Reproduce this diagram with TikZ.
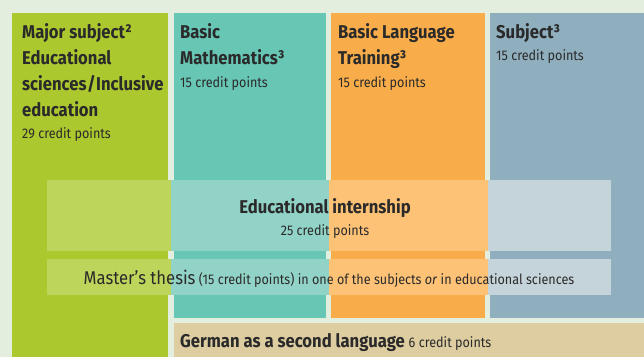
\documentclass[tikz,border=0pt]{standalone}
\usepackage{fontspec}
\setmainfont{Fira Sans}[FakeStretch=0.9]
\definecolor{bgc}{HTML}{E3EEDF}
\definecolor{ink}{HTML}{2A2A2A}
\definecolor{colA}{HTML}{ACC82F}
\definecolor{colB}{HTML}{68C6B5}
\definecolor{colC}{HTML}{F9AD4A}
\definecolor{colD}{HTML}{90AFBE}
\definecolor{colE}{HTML}{DDCDA0}
\definecolor{litA}{HTML}{BDD55B}
\definecolor{litB}{HTML}{92D3C7}
\definecolor{litC}{HTML}{FDC276}
\definecolor{litD}{HTML}{C5D4DB}
\tikzset{
  head/.style={anchor=base west, inner sep=0pt, font=\fontsize{18.5}{22}\selectfont\bfseries},
  pts/.style={anchor=base west, inner sep=0pt, font=\fontsize{14}{16}\selectfont},
}
\begin{document}
\begin{tikzpicture}[x=1pt, y=-1pt, text=ink]
\def\W{644} % breite
\def\H{357} % hoehe
\useasboundingbox (0,0) rectangle (\W,\H);
\fill[bgc] (0,0) rectangle (\W,\H);
% spalten
\fill[colA] (12,13) rectangle (168,\H);
\fill[colB] (174,13) rectangle (326,318);
\fill[colC] (331,13) rectangle (485,318);
\fill[colD] (490,13) rectangle (\W,318);
\fill[colE] (174,323) rectangle (\W,\H);
% querbalken
\foreach \ya/\yb in {180/251,259/295}{
  \fill[litA] (47,\ya) rectangle (171,\yb);
  \fill[litB] (171,\ya) rectangle (328.5,\yb);
  \fill[litC] (328.5,\ya) rectangle (487.5,\yb);
  \fill[litD] (487.5,\ya) rectangle (611,\yb);
}
\path
(22,38) node[head] (majorA) {Major subject²}
(22,64) node[head] (majorB) {Educational}
(22,90) node[head] (majorC) {sciences\kern.5pt/\kern.5pt Inclusive}
(22,116) node[head] (majorD) {education}
(22,138) node[pts] (majorP) {29 credit points}
(180,38) node[head] (mathA) {Basic}
(180,64) node[head] (mathB) {Mathematics³}
(180,87) node[pts] (mathP) {15 credit points}
(338,38) node[head] (langA) {Basic Language}
(338,64) node[head] (langB) {Training³}
(338,87) node[pts] (langP) {15 credit points}
(496,38) node[head] (subjA) {Subject³}
(496,60) node[pts] (subjP) {15 credit points}
(325,213) node[head, anchor=base] (intern) {Educational internship}
(325,235) node[pts, anchor=base] (internP) {25 credit points}
(329,284) node[pts, anchor=base] (thesis) {{\fontsize{18.5}{22}\selectfont Master’s thesis} (15 credit points) in one of the subjects \emph{or} in educational sciences}
(180,347) node[head] (german) {German as a second language {\mdseries\fontsize{14}{16}\selectfont 6 credit points}}
;
\end{tikzpicture}
\end{document}
